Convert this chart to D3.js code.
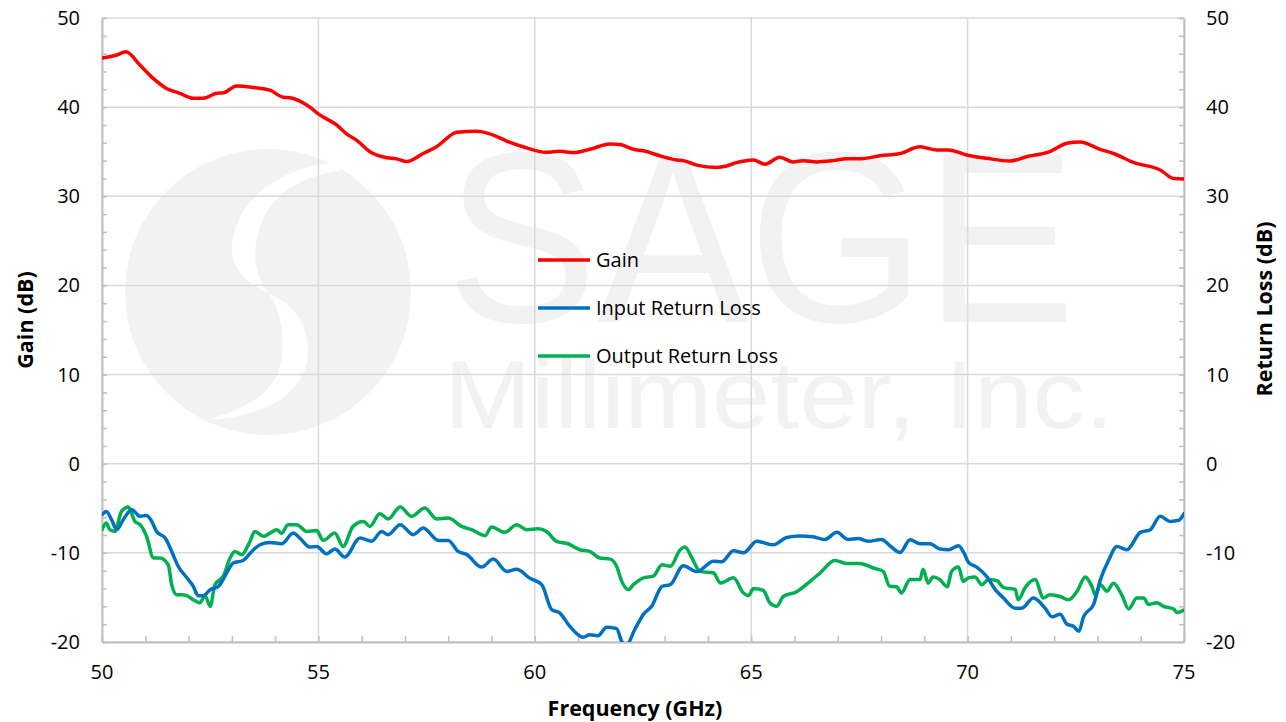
<!DOCTYPE html>
<html>
<head>
<meta charset="utf-8">
<script src="https://cdn.jsdelivr.net/npm/d3@7"></script>
<style>
  body { margin: 0; background: #fff; }
</style>
</head>
<body>
<div id="chart"></div>
<script>
// ---- data ----
var gainFreq = [50, 50.34, 50.55, 50.88, 51.19, 51.49, 51.8, 52.11, 52.34, 52.65, 52.8, 53.11, 53.5, 53.88, 54.19, 54.34, 54.73, 55.04, 55.42, 55.65, 55.88, 56.19, 56.58, 56.81, 57.04, 57.42, 57.73, 58.2, 58.66, 58.96, 59.35, 59.73, 60.27, 60.58, 60.89, 61.27, 61.74, 61.97, 62.28, 62.51, 62.9, 63.28, 63.43, 63.74, 64.2, 64.43, 64.66, 65.05, 65.32, 65.66, 65.97, 66.2, 66.51, 66.9, 67.2, 67.51, 67.98, 68.44, 68.9, 69.29, 69.56, 69.98, 70.44, 70.98, 71.36, 71.9, 72.29, 72.6, 73.06, 73.37, 73.83, 74.45, 74.76, 75];
var gainDb = [45.5, 45.85, 46.2, 44.7, 43.2, 42.1, 41.55, 41.0, 41.0, 41.55, 41.6, 42.37, 42.2, 41.9, 41.1, 41.05, 40.24, 39.1, 38.0, 37.0, 36.3, 35.0, 34.33, 34.2, 33.9, 34.8, 35.56, 37.18, 37.3, 37.0, 36.2, 35.56, 34.93, 35.05, 34.9, 35.27, 35.86, 35.8, 35.27, 35.1, 34.52, 34.07, 34.0, 33.5, 33.24, 33.4, 33.77, 34.07, 33.6, 34.37, 33.85, 34.0, 33.85, 34.0, 34.2, 34.2, 34.55, 34.8, 35.56, 35.2, 35.2, 34.63, 34.26, 33.96, 34.44, 35.0, 35.94, 36.1, 35.27, 34.8, 33.8, 32.95, 32.0, 31.95];

var inFreq = [50, 50.1, 50.22, 50.34, 50.49, 50.69, 50.88, 51.03, 51.15, 51.26, 51.46, 51.61, 51.76, 51.96, 52.11, 52.22, 52.34, 52.5, 52.69, 52.88, 53.03, 53.26, 53.5, 53.65, 53.88, 54.15, 54.42, 54.57, 54.8, 54.96, 55.19, 55.38, 55.61, 55.96, 56.23, 56.46, 56.61, 56.89, 57.19, 57.42, 57.77, 58.0, 58.23, 58.43, 58.77, 59.04, 59.35, 59.58, 59.89, 60.16, 60.39, 60.58, 60.81, 61.12, 61.27, 61.46, 61.66, 61.89, 62.01, 62.12, 62.31, 62.51, 62.7, 62.94, 63.13, 63.43, 63.74, 64.13, 64.32, 64.59, 64.82, 65.13, 65.51, 65.82, 66.13, 66.43, 66.7, 66.98, 67.24, 67.47, 67.7, 68.01, 68.24, 68.44, 68.67, 68.9, 69.13, 69.36, 69.56, 69.79, 69.91, 70.02, 70.21, 70.44, 70.64, 70.83, 71.1, 71.25, 71.52, 71.79, 71.95, 72.14, 72.29, 72.45, 72.57, 72.68, 72.91, 73.07, 73.26, 73.45, 73.68, 73.99, 74.22, 74.45, 74.68, 74.88, 75];
var inDb = [-5.72, -5.35, -6.28, -7.4, -6.28, -5.16, -5.9, -5.8, -6.47, -7.6, -8.34, -9.84, -11.5, -12.8, -13.75, -14.8, -14.8, -14.13, -13.75, -12.26, -11.14, -10.85, -9.65, -9.09, -8.83, -8.98, -7.78, -8.34, -9.35, -9.3, -10.1, -9.57, -10.47, -8.34, -8.7, -7.6, -7.96, -6.84, -7.96, -7.22, -8.6, -8.6, -9.84, -10.2, -11.6, -10.7, -12.08, -11.85, -12.86, -13.57, -16.37, -16.75, -18.25, -19.47, -19.2, -19.3, -18.35, -18.5, -19.96, -20.3, -18.6, -16.9, -16.0, -13.75, -13.57, -11.44, -12.1, -10.95, -11.0, -9.76, -10.0, -8.7, -9.1, -8.27, -8.1, -8.2, -8.5, -7.7, -8.5, -8.4, -8.7, -8.5, -9.35, -9.95, -8.53, -8.97, -8.97, -9.57, -9.65, -9.2, -9.95, -11.07, -11.6, -12.64, -14.13, -15.07, -16.2, -16.2, -15.07, -16.2, -17.16, -16.9, -17.98, -18.25, -18.8, -17.16, -15.8, -13.0, -10.8, -9.3, -9.65, -7.7, -7.4, -5.9, -6.47, -6.35, -5.6];

var outFreq = [50, 50.1, 50.18, 50.3, 50.45, 50.61, 50.76, 50.88, 51.03, 51.19, 51.34, 51.53, 51.61, 51.73, 51.84, 51.96, 52.11, 52.26, 52.38, 52.5, 52.61, 52.8, 52.96, 53.07, 53.23, 53.42, 53.53, 53.73, 53.88, 54.04, 54.15, 54.3, 54.5, 54.73, 54.96, 55.11, 55.38, 55.57, 55.8, 56.04, 56.19, 56.42, 56.61, 56.89, 57.15, 57.46, 57.73, 58.0, 58.31, 58.54, 58.85, 59.0, 59.31, 59.58, 59.81, 60.08, 60.27, 60.5, 60.77, 61.04, 61.27, 61.5, 61.74, 61.89, 62.01, 62.16, 62.28, 62.51, 62.74, 62.94, 63.13, 63.36, 63.47, 63.63, 63.82, 64.13, 64.29, 64.59, 64.82, 64.94, 65.05, 65.28, 65.43, 65.59, 65.74, 66.05, 66.36, 66.59, 66.93, 67.2, 67.51, 67.82, 68.05, 68.2, 68.36, 68.47, 68.67, 68.9, 68.97, 69.09, 69.2, 69.36, 69.53, 69.63, 69.79, 69.9, 70.02, 70.17, 70.33, 70.48, 70.67, 70.83, 71.1, 71.17, 71.33, 71.56, 71.75, 71.9, 72.14, 72.33, 72.53, 72.72, 72.87, 72.95, 73.07, 73.22, 73.37, 73.57, 73.72, 73.91, 74.07, 74.18, 74.37, 74.53, 74.76, 74.84, 75];
var outDb = [-7.4, -6.65, -7.4, -7.6, -5.35, -4.86, -6.47, -6.84, -8.15, -10.58, -10.58, -11.33, -13.57, -14.7, -14.7, -14.8, -15.26, -15.6, -14.8, -16.0, -13.57, -12.64, -10.58, -9.84, -10.2, -8.7, -7.6, -8.15, -7.78, -7.4, -7.8, -6.84, -6.84, -7.6, -7.5, -8.6, -7.78, -9.28, -7.03, -6.47, -7.03, -5.61, -6.2, -4.86, -5.9, -4.97, -6.2, -6.1, -7.03, -7.4, -8.07, -7.1, -7.7, -6.84, -7.4, -7.3, -7.6, -8.7, -8.98, -9.65, -9.84, -10.58, -10.7, -11.5, -13.2, -14.13, -13.57, -12.8, -12.6, -11.33, -11.5, -9.65, -9.35, -10.58, -12.08, -12.26, -13.38, -12.8, -14.5, -14.8, -14.0, -14.2, -15.6, -16.0, -14.9, -14.36, -13.2, -12.26, -10.85, -11.2, -11.2, -11.7, -12.08, -13.75, -13.8, -14.5, -13.0, -13.0, -11.85, -13.4, -12.7, -13.0, -13.8, -12.08, -11.6, -13.2, -12.8, -12.7, -13.57, -13.0, -13.1, -13.9, -14.1, -15.26, -13.9, -13.0, -15.07, -14.7, -14.9, -15.26, -14.3, -12.7, -13.75, -14.7, -13.57, -14.3, -13.4, -14.8, -16.3, -15.07, -15.07, -15.8, -15.6, -16.0, -16.3, -16.7, -16.4];

var freqTicks = [50, 55, 60, 65, 70, 75];
var dbTicks = [-20, -10, 0, 10, 20, 30, 40, 50];
var seriesNames = ["Gain", "Input Return Loss", "Output Return Loss"];
var seriesColors = ["#ff0000", "#0070c0", "#00b050"];

// ---- layout ----
var WIDTH = 1286, HEIGHT = 722;
var LEFT = 102, RIGHT = 1184, TOP = 18, BOTTOM = 642;
var FONT = "'Open Sans', 'DejaVu Sans', sans-serif";

var svg = d3.select("#chart").append("svg")
  .attr("width", WIDTH)
  .attr("height", HEIGHT);

var x = d3.scaleLinear().domain([50, 75]).range([LEFT, RIGHT]);
var y = d3.scaleLinear().domain([-20, 50]).range([BOTTOM, TOP]);

svg.append("defs").append("clipPath").attr("id", "plotclip")
  .append("rect")
  .attr("x", LEFT).attr("y", TOP)
  .attr("width", RIGHT - LEFT).attr("height", BOTTOM - TOP);

// watermark (SAGE logo), sits behind the grid
var wm = svg.append("g").attr("fill", "#f2f2f2");
wm.append("circle").attr("cx", 268).attr("cy", 292).attr("r", 143);
wm.append("path")
  .attr("fill", "#fff")
  .attr("d", "M338,162 C288,166 242,192 233,238 C227,266 247,284 268,293 C256,276 252,256 258,234 C266,200 296,176 340,171 Z");
wm.append("path")
  .attr("fill", "#fff")
  .attr("d", "M268,293 C300,306 312,335 307,362 C300,396 262,418 205,420 C246,410 276,392 281,362 C286,335 280,308 268,293 Z");
wm.append("text")
  .attr("x", 446).attr("y", 322)
  .attr("textLength", 630).attr("lengthAdjust", "spacingAndGlyphs")
  .style("font-family", "'Liberation Sans', Arial, sans-serif")
  .style("font-size", "244px")
  .text("SAGE");
wm.append("text")
  .attr("x", 444).attr("y", 428)
  .attr("textLength", 670).attr("lengthAdjust", "spacingAndGlyphs")
  .style("font-family", "'Liberation Sans', Arial, sans-serif")
  .style("font-size", "96px")
  .text("Millimeter, Inc.");

// grid lines
svg.append("g").selectAll("line.hgrid")
  .data(dbTicks)
  .enter().append("line")
  .attr("x1", LEFT).attr("x2", RIGHT)
  .attr("y1", function(d){ return y(d); })
  .attr("y2", function(d){ return y(d); })
  .attr("stroke", "#d9d9d9")
  .attr("stroke-width", 1.5);

svg.append("g").selectAll("line.vgrid")
  .data(freqTicks)
  .enter().append("line")
  .attr("x1", function(d){ return x(d); })
  .attr("x2", function(d){ return x(d); })
  .attr("y1", TOP).attr("y2", BOTTOM)
  .attr("stroke", "#d9d9d9")
  .attr("stroke-width", 1.5);

// axes: minor ticks point inward, labels drawn separately
var minorDb = d3.range(-20, 51, 2);
var minorF = d3.range(50, 76, 1);

function styleAxis(g) {
  g.select(".domain").attr("stroke", "#bfbfbf").attr("stroke-width", 2);
  g.selectAll(".tick line").attr("stroke", "#bfbfbf").attr("stroke-width", 1.5);
  g.selectAll(".tick text").remove();
}

svg.append("g")
  .attr("transform", "translate(" + LEFT + ",0)")
  .call(d3.axisRight(y).tickValues(minorDb).tickSize(5).tickSizeOuter(0))
  .call(styleAxis);

svg.append("g")
  .attr("transform", "translate(" + RIGHT + ",0)")
  .call(d3.axisLeft(y).tickValues(minorDb).tickSize(5).tickSizeOuter(0))
  .call(styleAxis);

svg.append("g")
  .attr("transform", "translate(0," + BOTTOM + ")")
  .call(d3.axisTop(x).tickValues(minorF).tickSize(6).tickSizeOuter(0))
  .call(styleAxis);

// tick labels
svg.append("g").selectAll("text")
  .data(dbTicks).enter().append("text")
  .attr("x", LEFT - 22)
  .attr("y", function(d){ return y(d); })
  .attr("dy", "0.35em")
  .style("text-anchor", "end")
  .style("font-family", FONT).style("font-size", "20px").style("fill", "#000")
  .text(function(d){ return d; });

svg.append("g").selectAll("text")
  .data(dbTicks).enter().append("text")
  .attr("x", RIGHT + 22)
  .attr("y", function(d){ return y(d); })
  .attr("dy", "0.35em")
  .style("text-anchor", "start")
  .style("font-family", FONT).style("font-size", "20px").style("fill", "#000")
  .text(function(d){ return d; });

svg.append("g").selectAll("text")
  .data(freqTicks).enter().append("text")
  .attr("x", function(d){ return x(d); })
  .attr("y", BOTTOM + 30)
  .attr("dy", "0.35em")
  .style("text-anchor", "middle")
  .style("font-family", FONT).style("font-size", "20px").style("fill", "#000")
  .text(function(d){ return d; });

// axis titles
svg.append("text")
  .attr("x", 635).attr("y", 708)
  .attr("dy", "0.35em")
  .style("text-anchor", "middle")
  .style("font-family", FONT).style("font-size", "21.5px").style("font-weight", "bold")
  .text("Frequency (GHz)");

svg.append("text")
  .attr("transform", "translate(25,320) rotate(-90)")
  .attr("dy", "0.35em")
  .style("text-anchor", "middle")
  .style("font-family", FONT).style("font-size", "21.5px").style("font-weight", "bold")
  .text("Gain (dB)");

svg.append("text")
  .attr("transform", "translate(1264,309) rotate(-90)")
  .attr("dy", "0.35em")
  .style("text-anchor", "middle")
  .style("font-family", FONT).style("font-size", "21.5px").style("font-weight", "bold")
  .text("Return Loss (dB)");

// series
var line = d3.line()
  .x(function(d){ return x(d[0]); })
  .y(function(d){ return y(d[1]); })
  .curve(d3.curveMonotoneX);

var series = [
  d3.zip(gainFreq, gainDb),
  d3.zip(inFreq, inDb),
  d3.zip(outFreq, outDb)
];

var plot = svg.append("g").attr("clip-path", "url(#plotclip)");
// draw green first, then blue, then red on top
[2, 1, 0].forEach(function(i){
  plot.append("path")
    .datum(series[i])
    .attr("fill", "none")
    .attr("stroke", seriesColors[i])
    .attr("stroke-width", 3.5)
    .attr("stroke-linejoin", "round")
    .attr("stroke-linecap", "round")
    .attr("d", line);
});

// legend
var legend = svg.append("g");
seriesNames.forEach(function(name, i){
  var ly = 260 + i * 48;
  legend.append("line")
    .attr("x1", 538).attr("x2", 590)
    .attr("y1", ly).attr("y2", ly)
    .attr("stroke", seriesColors[i])
    .attr("stroke-width", 3.5);
  legend.append("text")
    .attr("x", 596).attr("y", ly)
    .attr("dy", "0.35em")
    .style("font-family", FONT).style("font-size", "20px")
    .text(name);
});
</script>
</body>
</html>
